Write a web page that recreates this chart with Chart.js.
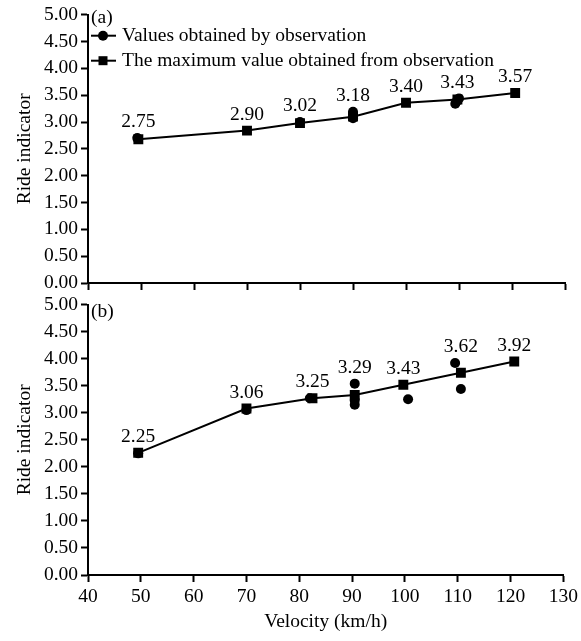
<!DOCTYPE html>
<html>
<head>
<meta charset="utf-8">
<script src="https://cdn.jsdelivr.net/npm/chart.js@4.4.0/dist/chart.umd.min.js"></script>
<style>
  html, body { margin: 0; padding: 0; background: #fff; }
  #wrap { position: relative; width: 581px; height: 641px; }
  #chartA { position: absolute; left: 0; top: 0; }
  #chartB { position: absolute; left: 0; top: 290px; }
</style>
</head>
<body>
<div id="wrap">
  <canvas id="chartA" width="581" height="300"></canvas>
  <canvas id="chartB" width="581" height="351"></canvas>
</div>
<script>
// ---- data ----
// panel (a): maximum values (squares, joined by a line)
var maxVelA = [49.5, 70, 80, 90, 100, 109.7, 120.6];
var maxRideA = [2.68, 2.84, 2.98, 3.10, 3.36, 3.42, 3.54];
var maxTextA = ['2.75', '2.90', '3.02', '3.18', '3.40', '3.43', '3.57'];
// panel (a): observed values (circles)
var obsVelA = [49.3, 80, 90, 90, 90, 110, 109.6, 109.3];
var obsRideA = [2.70, 3.00, 3.19, 3.13, 3.07, 3.44, 3.39, 3.34];

// panel (b)
var maxVelB = [49.5, 70, 82.5, 90.5, 99.7, 110.6, 120.7];
var maxRideB = [2.26, 3.08, 3.27, 3.33, 3.52, 3.74, 3.95];
var maxTextB = ['2.25', '3.06', '3.25', '3.29', '3.43', '3.62', '3.92'];
var obsVelB = [49.5, 70, 82, 90.5, 90.5, 90.5, 100.6, 109.5, 110.6];
var obsRideB = [2.25, 3.05, 3.27, 3.54, 3.23, 3.15, 3.25, 3.92, 3.44];

var yTicks = [0, 0.5, 1, 1.5, 2, 2.5, 3, 3.5, 4, 4.5, 5];
var seriesNames = ['Values obtained by observation', 'The maximum value obtained from observation'];

var FONT = 'Liberation Serif';
var fontMain = { family: FONT, size: 19.5 };

function toPoints(xs, ys) {
	var pts = [];
	for (var i = 0; i < xs.length; i++) pts.push({ x: xs[i], y: ys[i] });
	return pts;
}

/* labels above each group, panel tag and legend */
var annotate = {
	id: 'annotate',
	afterDatasetsDraw: function(chart, args, opts) {
		var ctx = chart.ctx;
		var xs = chart.scales.x, ys = chart.scales.y;
		ctx.save();
		ctx.fillStyle = '#000';
		ctx.font = '19.5px "' + FONT + '"';
		ctx.textAlign = 'center';
		ctx.textBaseline = 'middle';
		opts.texts.forEach(function(txt, i) {
			var vx = opts.maxVel[i];
			var top = ys.getPixelForValue(opts.maxRide[i]);
			for (var k = 0; k < opts.obsVel.length; k++) {
				if (Math.abs(opts.obsVel[k] - vx) < 1.6) {
					top = Math.min(top, ys.getPixelForValue(opts.obsRide[k]));
				}
			}
			ctx.fillText(txt, xs.getPixelForValue(vx), top - 16);
		});

		// panel tag
		ctx.textAlign = 'left';
		ctx.fillText(opts.tag, xs.left + 3, ys.top + opts.tagDy);

		// legend
		if (opts.legend) {
			var lx = xs.left + 3, rowY = [ys.top + 21, ys.top + 46];
			for (var r = 0; r < 2; r++) {
				ctx.strokeStyle = '#000';
				ctx.lineWidth = 2;
				ctx.beginPath();
				ctx.moveTo(lx, rowY[r]);
				ctx.lineTo(lx + 25, rowY[r]);
				ctx.stroke();
				ctx.beginPath();
				if (r === 0) {
					ctx.arc(lx + 12, rowY[r], 5, 0, Math.PI * 2);
				} else {
					ctx.rect(lx + 7.5, rowY[r] - 4.5, 9, 9);
				}
				ctx.fill();
				ctx.fillText(seriesNames[r], lx + 31, rowY[r]);
			}
		}
		ctx.restore();
	}
};

function makeChart(id, maxVel, maxRide, texts, obsVel, obsRide, bottom, tag, tagDy) {
	var ctx = document.getElementById(id).getContext('2d');
	return new Chart(ctx, {
		type: 'scatter',
		data: {
			datasets: [{
				label: seriesNames[1],
				data: toPoints(maxVel, maxRide),
				showLine: true,
				borderColor: '#000',
				borderWidth: 2,
				backgroundColor: '#000',
				pointStyle: 'rect',
				pointRadius: 7,
				pointBorderWidth: 0,
				order: 1
			}, {
				label: seriesNames[0],
				data: toPoints(obsVel, obsRide),
				showLine: false,
				borderColor: '#000',
				backgroundColor: '#000',
				pointStyle: 'circle',
				pointRadius: 5,
				pointBorderWidth: 0,
				order: 2
			}]
		},
		options: {
			responsive: false,
			animation: false,
			layout: { padding: { left: 0, right: 16, top: 14, bottom: 0 } },
			plugins: {
				legend: { display: false },
				tooltip: { enabled: false },
				annotate: {
					texts: texts, maxVel: maxVel, maxRide: maxRide,
					obsVel: obsVel, obsRide: obsRide,
					tag: tag, tagDy: tagDy, legend: !bottom
				}
			},
			scales: {
				x: {
					type: 'linear',
					min: 40,
					max: 130,
					ticks: { stepSize: 10, display: bottom, autoSkip: false, color: '#000', font: fontMain, padding: 3, maxRotation: 0 },
					grid: { drawOnChartArea: false, drawTicks: true, tickLength: 7, tickWidth: 2, color: '#000' },
					border: { display: true, color: '#000', width: 2 },
					title: { display: bottom, text: 'Velocity (km/h)', color: '#000', font: fontMain, padding: { top: 0, bottom: 7 } },
					afterFit: function(s) { s.height = bottom ? 66 : 17; }
				},
				y: {
					type: 'linear',
					min: 0,
					max: 5,
					afterBuildTicks: function(s) { s.ticks = yTicks.map(function(v) { return { value: v }; }); },
					ticks: {
						color: '#000', font: fontMain, padding: 3, autoSkip: false,
						callback: function(v) { return Number(v).toFixed(2); }
					},
					grid: { drawOnChartArea: false, drawTicks: true, tickLength: 7, tickWidth: 2, color: '#000' },
					border: { display: true, color: '#000', width: 2 },
					title: { display: true, text: 'Ride indicator', color: '#000', font: fontMain, padding: { top: 13, bottom: 0 } },
					afterFit: function(s) { s.width = 88; }
				}
			}
		},
		plugins: [annotate]
	});
}

makeChart('chartA', maxVelA, maxRideA, maxTextA, obsVelA, obsRideA, false, '(a)', 3);
makeChart('chartB', maxVelB, maxRideB, maxTextB, obsVelB, obsRideB, true, '(b)', 7);
</script>
</body>
</html>
